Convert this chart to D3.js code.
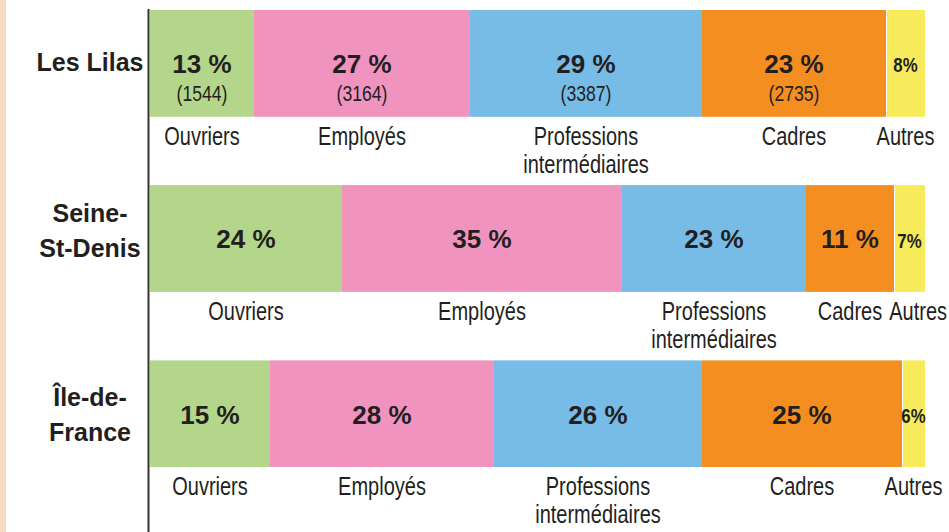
<!DOCTYPE html>
<html>
<head>
<meta charset="utf-8">
<script src="https://cdn.jsdelivr.net/npm/d3@7"></script>
<style>
  body { margin: 0; background: #fff; }
  svg { display: block; }
</style>
</head>
<body>
<div class="canvas"></div>
<script>
// Data
const rows = ['Les Lilas', 'Seine-St-Denis', 'Île-de-France']
const rowLines = [['Les Lilas'], ['Seine-', 'St-Denis'], ['Île-de-', 'France']]
const categories = ['Ouvriers', 'Employés', 'Professions intermédiaires', 'Cadres', 'Autres']
const categoryLines = [['Ouvriers'], ['Employés'], ['Professions', 'intermédiaires'], ['Cadres'], ['Autres']]
const lesLilas = [13, 27, 29, 23, 8]
const seineStDenis = [24, 35, 23, 11, 7]
const ileDeFrance = [15, 28, 26, 25, 6]
const lesLilasCounts = [1544, 3164, 3387, 2735, null]
const colors = ['#b3d68b', '#f093be', '#77bbe7', '#f48e20', '#f7ea5b']

const values = [lesLilas, seineStDenis, ileDeFrance]
const counts = [lesLilasCounts, null, null]

const width = 949
const height = 532
const ink = '#231f20'
const font = '"Liberation Sans", Arial, sans-serif'
const squeeze = 0.8

const svg = d3.select('.canvas')
  .append('svg')
  .attr('width', width)
  .attr('height', height)

// beige strip on the left edge
svg.append('rect')
  .attr('x', 0).attr('y', 0)
  .attr('width', 6).attr('height', height)
  .attr('fill', '#f7dcbe')

// Scales
const x = d3.scaleLinear()
  .domain([0, 100])
  .range([150, 950])
const xEnd = 925

const y = d3.scaleBand()
  .domain(rows)
  .range([10, 467])
  .paddingInner(0.39)
  .paddingOuter(0)

svg.append('clipPath')
  .attr('id', 'clip')
  .append('rect')
  .attr('x', x(0)).attr('y', 0)
  .attr('width', xEnd - x(0)).attr('height', height)

// condensed text: horizontally squeezed around its anchor
const narrowText = (g, cx, cy, lines, size, weight, lh) => {
  const wrap = g.append('g')
    .attr('transform', `translate(${cx}, ${cy}) scale(${squeeze}, 1)`)
  const t = wrap.append('text')
    .attr('text-anchor', 'middle')
    .attr('fill', ink)
    .attr('font-family', font)
    .attr('font-weight', weight)
    .attr('font-size', size)
  t.selectAll('tspan')
    .data(lines)
    .enter()
    .append('tspan')
    .attr('x', 0)
    .attr('dy', (d, i) => i === 0 ? 0 : lh)
    .text(d => d)
  const w = d3.max(t.selectAll('tspan').nodes(), n => n.getComputedTextLength()) * squeeze
  return { wrap, w, cx, cy }
}

// Stack each row
const stacked = values.map(v => {
  let acc = 0
  return v.map((d, i) => {
    const s = { cat: categories[i], i, value: d, x0: acc, x1: acc + d }
    acc += d
    return s
  })
})

const rowGroups = svg.selectAll('g.row')
  .data(rows)
  .enter()
  .append('g')
  .attr('class', 'row')
  .attr('transform', r => `translate(0, ${y(r)})`)

const bh = y.bandwidth()
const nameShift = [0, -9, 0]

rowGroups.each(function (r, ri) {
  const g = d3.select(this)
  const segs = stacked[ri]
  const mid = s => (x(s.x0) + Math.min(x(s.x1), xEnd)) / 2

  // bars
  g.append('g').attr('clip-path', 'url(#clip)')
    .selectAll('rect')
    .data(segs)
    .enter()
    .append('rect')
    .attr('x', d => x(d.x0) + (d.i === 4 ? 1 : 0))
    .attr('y', 0)
    .attr('width', d => x(d.x1) - x(d.x0) - (d.i === 4 ? 1 : 0))
    .attr('height', bh)
    .attr('fill', d => colors[d.i])

  // value labels
  const hasCounts = counts[ri] != null
  let prevRight = 0
  segs.forEach(d => {
    if (d.i === 4) {
      narrowText(g, mid(d), bh / 2 + 9, [`${d.value}%`], 21, 'bold', 0)
    } else {
      g.append('text')
        .attr('x', mid(d))
        .attr('y', bh / 2 + 10)
        .attr('text-anchor', 'middle')
        .attr('fill', ink)
        .attr('font-family', font)
        .attr('font-weight', 'bold')
        .attr('font-size', 26)
        .text(`${d.value} %`)
    }
    if (hasCounts && counts[ri][d.i] != null) {
      narrowText(g, mid(d), bh / 2 + 38, [`(${counts[ri][d.i]})`], 22, 'normal', 0)
    }
    // category labels under the bar, pushed right if they touch the previous one
    const lab = narrowText(g, mid(d), bh + 28, categoryLines[d.i], 25, 'normal', 28)
    let cx = lab.cx
    if (cx - lab.w / 2 < prevRight + 7) {
      cx = prevRight + 7 + lab.w / 2
      lab.wrap.attr('transform', `translate(${cx}, ${lab.cy}) scale(${squeeze}, 1)`)
    }
    prevRight = cx + lab.w / 2
  })

  // row name
  const lines = rowLines[ri]
  const lh = 35
  g.append('text')
    .attr('x', 90)
    .attr('y', bh / 2 + 8 - (lines.length - 1) * lh / 2 + (ri === 0 ? 0 : 2) + nameShift[ri])
    .attr('text-anchor', 'middle')
    .attr('fill', ink)
    .attr('font-family', font)
    .attr('font-weight', 'bold')
    .attr('font-size', 25)
    .selectAll('tspan')
    .data(lines)
    .enter()
    .append('tspan')
    .attr('x', 90)
    .attr('dy', (d, i) => i === 0 ? 0 : lh)
    .text(d => d)
})

// vertical axis line
svg.append('line')
  .attr('x1', 148.5).attr('x2', 148.5)
  .attr('y1', 9).attr('y2', height)
  .attr('stroke', '#333')
  .attr('stroke-width', 2)
</script>
</body>
</html>
